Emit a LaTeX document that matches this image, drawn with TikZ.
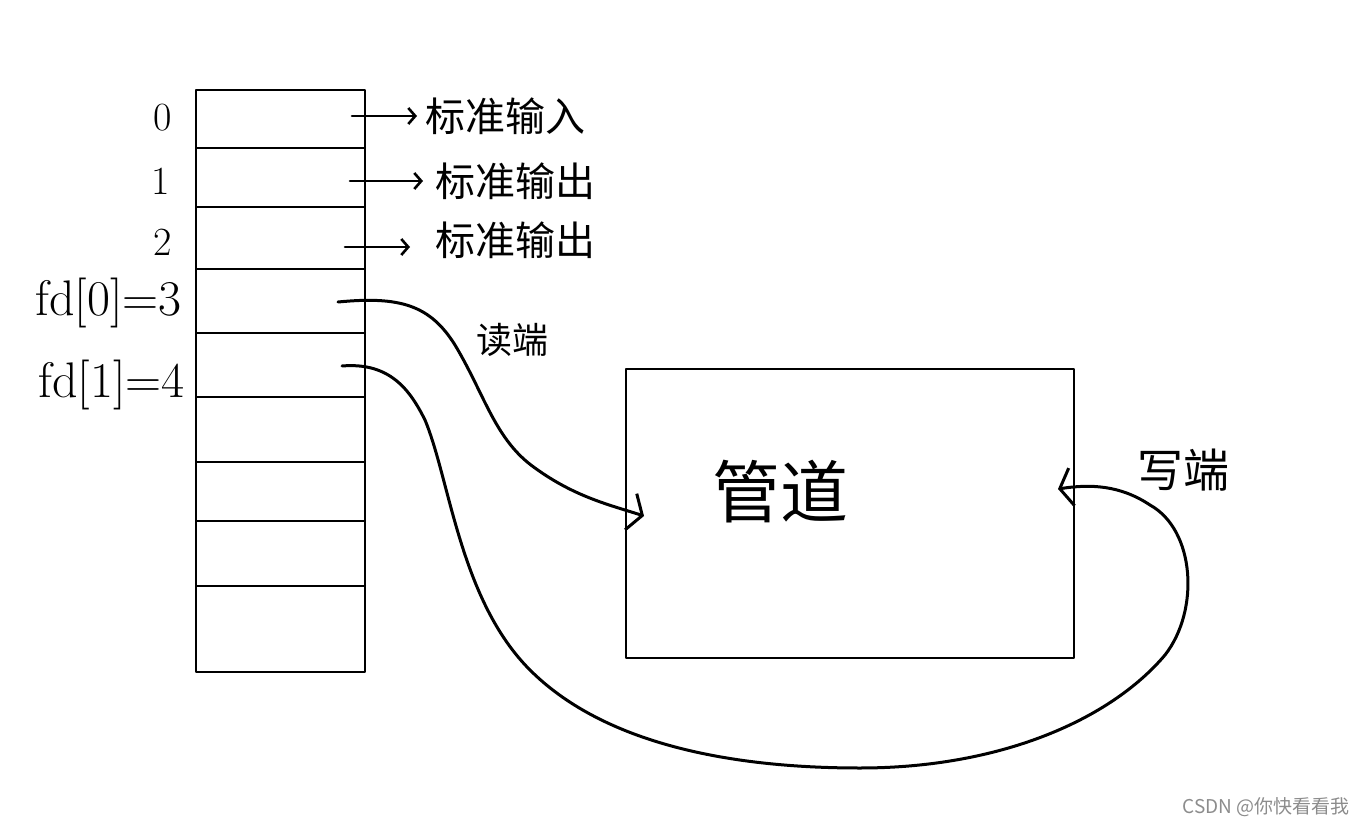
\documentclass[tikz,border=0pt]{standalone}
\usepackage{fontspec}
\newfontfamily\cjk{Noto Sans CJK SC}
\usepackage{tikz}
\usetikzlibrary{arrows.meta, positioning}

\tikzset{
  fdnum/.style={font=\fontsize{40}{40}\selectfont, inner sep=0pt},
  fdname/.style={font=\fontsize{50}{50}\selectfont, inner sep=0pt, anchor=east},
  stdname/.style={font=\cjk\fontsize{40}{40}\selectfont, inner sep=0pt, anchor=west},
  endname/.style={font=\cjk\fontsize{36}{36}\selectfont, inner sep=0pt},
  shortarr/.style={line width=2.6pt, -{Straight Barb[length=7pt, width=16pt, line width=2.6pt]}},
  longarr/.style={line width=3pt, -{Straight Barb[length=12pt, width=38pt, line width=3pt]}},
}

\begin{document}
\begin{tikzpicture}[x=1pt, y=-1pt, line cap=round, line join=round]
\useasboundingbox (0,0) rectangle (1366,826);

% fd table
\draw[line width=2pt] (196,90) rectangle (365,672);
\foreach \y in {148,207,269,333,397,462,521,586}
  \draw[line width=2pt] (196,\y) -- (365,\y);

% Row labels
\node[fdnum] (n0) at (163,118) {0};
\node[fdnum] (n1) at (161,181) {1};
\node[fdnum] (n2) at (163,242) {2};
\node[fdname] (fd0) at (182,303) {fd[0]=3};
\node[fdname] (fd1) at (185,385) {fd[1]=4};

% Standard streams
\coordinate (s0) at (352,116);
\coordinate (s1) at (350,181);
\coordinate (s2) at (345,247);
\node[stdname] (in0) at (425,116) {标准输入};
\node[stdname] (out1) at (435,181) {标准输出};
\node[stdname] (out2) at (435,240) {标准输出};
\draw[shortarr, shorten >=8pt] (s0) -- (s0 -| in0.west);
\draw[shortarr, shorten >=12pt] (s1) -- (s1 -| out1.west);
\draw[shortarr, shorten >=25pt] (s2) -- (s2 -| out2.west);

% Pipe
\node[draw, line width=2pt, minimum width=448pt, minimum height=289pt, inner sep=0pt] (pipe) at (850,513.5) {};
\node[font=\cjk\fontsize{68}{68}\selectfont, inner sep=0pt] (pipename) at (780,492) {管道};

% Read end
\coordinate (r3) at (338,302);
\coordinate (rin) at (644,516);
\node[endname] (readlbl) at (512,340) {读端};
\draw[longarr] (r3) .. controls (400,296) and (430,305) .. (455,345)
  .. controls (485,395) and (495,440) .. (535,468)
  .. controls (575,497) and (610,505) .. (rin);

% Write end
\coordinate (w4) at (342,366);
\coordinate (win) at (1058,489);
\node[endname, font=\cjk\fontsize{46}{46}\selectfont] (writelbl) at (1183,470) {写端};
\draw[longarr] (w4) .. controls (390,362) and (410,390) .. (425,420)
  .. controls (450,480) and (460,600) .. (530,670)
  .. controls (600,740) and (720,768) .. (860,768)
  .. controls (1000,768) and (1110,720) .. (1165,655)
  .. controls (1200,610) and (1195,530) .. (1150,505)
  .. controls (1120,485) and (1090,484) .. (win);

% Watermark
\node[font=\cjk\fontsize{19}{19}\selectfont, text=black!45, anchor=east, inner sep=0pt] (mark) at (1350,807) {CSDN @你快看看我};
\end{tikzpicture}
\end{document}
